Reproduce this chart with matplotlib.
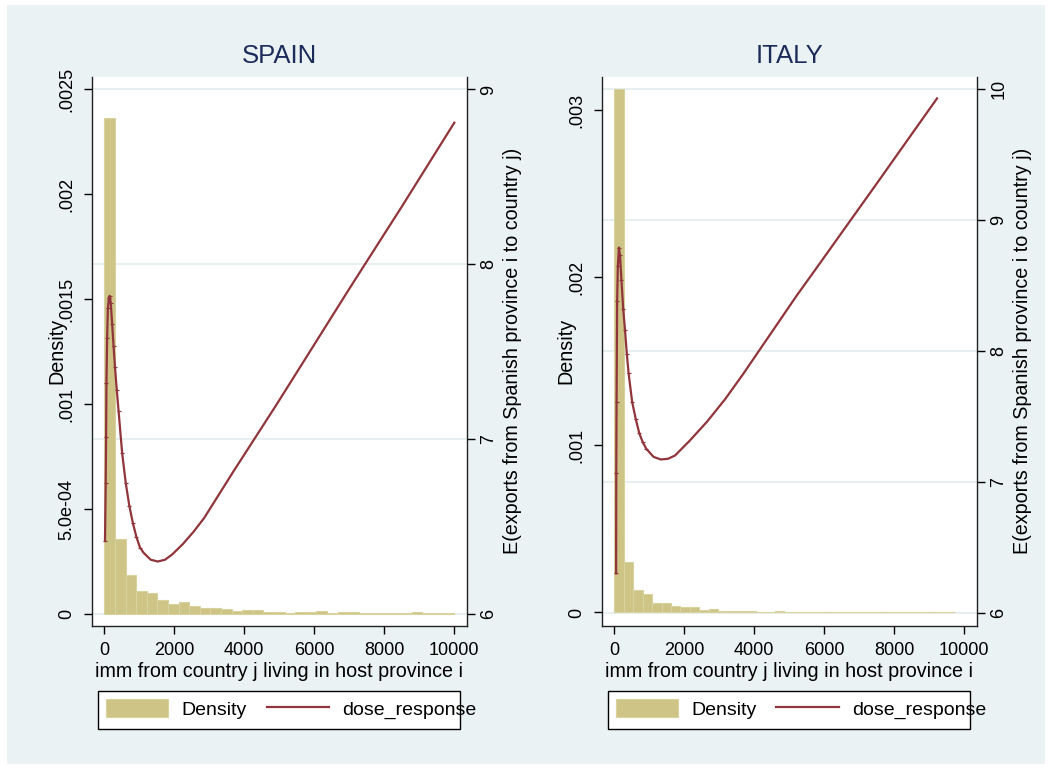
import numpy as np
import matplotlib.pyplot as plt
from matplotlib.patches import Rectangle
from matplotlib.transforms import blended_transform_factory

plt.rcParams['font.family'] = ['Liberation Sans', 'DejaVu Sans']

# histogram densities (bin heights) and bin widths
spain_density = [0.002362, 0.000356, 0.000184, 0.000111, 0.000099, 0.000065, 0.000050,
                 0.000055, 0.000036, 0.000029, 0.000029, 0.000022, 0.000012, 0.000020,
                 0.000018, 0.000010, 0.000008, 0.000007, 0.000008, 0.000008, 0.000012,
                 0.000007, 0.000009, 0.000011, 0.000006, 0.000006, 0.000005, 0.000006,
                 0.000005, 0.000008, 0.000006, 0.000005, 0.000006]
spain_bin_width = 303.0

italy_density = [0.003127, 0.000299, 0.000133, 0.000112, 0.000054, 0.000054, 0.000039,
                 0.000030, 0.000030, 0.000016, 0.000019, 0.000010, 0.000008, 0.000006,
                 0.000007, 0.000005, 0.000005, 0.000006, 0.000004, 0.000005, 0.000004,
                 0.000004, 0.000005, 0.000004, 0.000003, 0.000004, 0.000003, 0.000004,
                 0.000003, 0.000003, 0.000003, 0.000004, 0.000003, 0.000003, 0.000003,
                 0.000003]
italy_bin_width = 270.0

# dose response curves
spain_imm = [20, 40, 51, 61, 81, 102, 132, 153, 183, 224, 265, 306, 357, 408, 510, 612,
             714, 816, 918, 1020, 1122, 1326, 1530, 1734, 1938, 2245, 2550, 2857, 3265,
             3673, 4285, 4897, 5714, 7000, 8500, 10000]
spain_resp = [6.42, 6.75, 7.01, 7.32, 7.58, 7.75, 7.81, 7.82, 7.78, 7.66, 7.53, 7.41,
              7.28, 7.16, 6.92, 6.75, 6.62, 6.52, 6.44, 6.38, 6.35, 6.31, 6.30, 6.31,
              6.34, 6.40, 6.47, 6.55, 6.68, 6.81, 7.00, 7.19, 7.45, 7.86, 8.33, 8.81]

italy_imm = [51, 56, 65, 81, 102, 132, 163, 204, 255, 306, 357, 408, 510, 612, 714, 816,
             918, 1122, 1326, 1530, 1734, 2142, 2653, 3163, 3673, 4183, 4694, 5204, 5714,
             7500, 9220]
italy_resp = [6.30, 7.07, 7.61, 8.38, 8.65, 8.79, 8.73, 8.54, 8.32, 8.16, 7.98, 7.83,
              7.61, 7.48, 7.37, 7.30, 7.25, 7.19, 7.17, 7.175, 7.20, 7.31, 7.46, 7.63,
              7.82, 8.02, 8.22, 8.42, 8.61, 9.28, 9.93]

x_ticks = [0, 2000, 4000, 6000, 8000, 10000]
spain_yticks = [0, 0.0005, 0.001, 0.0015, 0.002, 0.0025]
spain_ylabels = ['0', '5.0e-04', '.001', '.0015', '.002', '.0025']
spain_y2ticks = [6, 7, 8, 9]
italy_yticks = [0, 0.001, 0.002, 0.003]
italy_ylabels = ['0', '.001', '.002', '.003']
italy_y2ticks = [6, 7, 8, 9, 10]

W, H = 1052, 769
BG = '#EAF2F3'
TAN = '#CDC486'
TAN_EDGE = '#D8D29E'
RED = '#90353B'
GRID = '#E3ECEF'
NAVY = '#1C2C5A'

fig = plt.figure(figsize=(W / 100, H / 100), dpi=100)
fig.patch.set_facecolor('white')
fig.patches.append(Rectangle((7 / W, 5 / H), 1038 / W, 759 / H, transform=fig.transFigure,
                             facecolor=BG, edgecolor='none', zorder=-10))


def panel(left_px, title, density, bw, imm, resp, yticks, ylabels, ylim, y2ticks, y2lim,
          lab_x):
    top_px, bot_px, w_px = 76.7, 626.0, 375.0
    ax = fig.add_axes([left_px / W, 1 - bot_px / H, w_px / W, (bot_px - top_px) / H])
    ax.set_facecolor('white')
    ax2 = ax.twinx()

    # gridlines follow the right axis, drawn under the bars
    tr = blended_transform_factory(ax.transAxes, ax2.transData)
    for v in y2ticks:
        ax.plot([0, 1], [v, v], transform=tr, color=GRID, lw=1.2, zorder=0)

    edges = np.arange(len(density)) * bw
    bars = ax.bar(edges, density, width=bw, align='edge', color=TAN, edgecolor=TAN_EDGE,
                  linewidth=0.8, zorder=2, label='Density')
    line, = ax2.plot(imm, resp, color=RED, lw=1.6, label='dose_response')
    near = [i for i, v in enumerate(imm) if v <= 1100]
    ax2.plot([imm[i] for i in near], [resp[i] for i in near], ls='none', marker='_',
             ms=3, mew=0.9, color=RED)

    ax.set_xlim(-360, 10354)
    ax.set_ylim(*ylim)
    ax2.set_ylim(*y2lim)
    ax.set_xticks(x_ticks)
    ax.set_xticklabels([str(t) for t in x_ticks])
    ax.set_yticks(yticks)
    ax.set_yticklabels(ylabels)
    ax2.set_yticks(y2ticks)
    ax2.set_yticklabels([str(t) for t in y2ticks])

    for a in (ax, ax2):
        a.spines['top'].set_visible(False)
        for s in a.spines.values():
            s.set_color('#222222')
            s.set_linewidth(1.0)
    ax2.spines['left'].set_visible(False)
    ax2.spines['bottom'].set_visible(False)
    ax.spines['right'].set_visible(False)

    ax.tick_params(axis='x', direction='out', length=6, width=1, labelsize=13, pad=5.5)
    ax.tick_params(axis='y', direction='out', length=6, width=1, labelsize=13, pad=5.5,
                   labelrotation=90)
    ax2.tick_params(axis='y', direction='out', length=6, width=1, labelsize=13, pad=4,
                    labelrotation=90)
    for t in ax.get_yticklabels() + ax2.get_yticklabels():
        t.set_va('center')

    ax.set_xlabel('imm from country j living in host province i', fontsize=14.2,
                  labelpad=2.5)
    ax.set_ylabel('Density', fontsize=14.2, va='center')
    ax.yaxis.set_label_coords(lab_x, 0.5)
    ax2.set_ylabel('E(exports from Spanish province i to country j)', fontsize=14.2,
                   va='center', rotation=90)
    ax2.yaxis.set_label_coords(1.123, 0.5)

    fig.text((left_px + w_px / 2) / W, 1 - 56 / H, title, fontsize=18.5, color=NAVY,
             ha='center', va='center')

    # legend box: fixed frame, text of the last entry runs past it as in Stata
    lx, ly, lw_, lh = left_px + 6.3, 691.0, 362.0, 38.0
    fig.patches.append(Rectangle((lx / W, 1 - (ly + lh) / H), lw_ / W, lh / H,
                                 transform=fig.transFigure, facecolor='white',
                                 edgecolor='black', linewidth=1.0, zorder=-1))
    ax2.legend(handles=[bars, line], loc='upper left',
               bbox_to_anchor=(lx / W, 1 - ly / H),
               bbox_transform=fig.transFigure, ncol=2, frameon=False,
               borderaxespad=0, fontsize=14, handlelength=3.2,
               handleheight=1.03, handletextpad=0.67, columnspacing=1.03,
               borderpad=0.41)
    return ax, ax2


panel(91.7, 'SPAIN', spain_density, spain_bin_width, spain_imm, spain_resp,
      spain_yticks, spain_ylabels, (-0.0000572, 0.00256), spain_y2ticks, (5.931, 9.073),
      -0.093)
panel(601.7, 'ITALY', italy_density, italy_bin_width, italy_imm, italy_resp,
      italy_yticks, italy_ylabels, (-0.0000806, 0.0031988), italy_y2ticks, (5.897, 10.096),
      -0.095)

fig.savefig('out.png', dpi=100)
